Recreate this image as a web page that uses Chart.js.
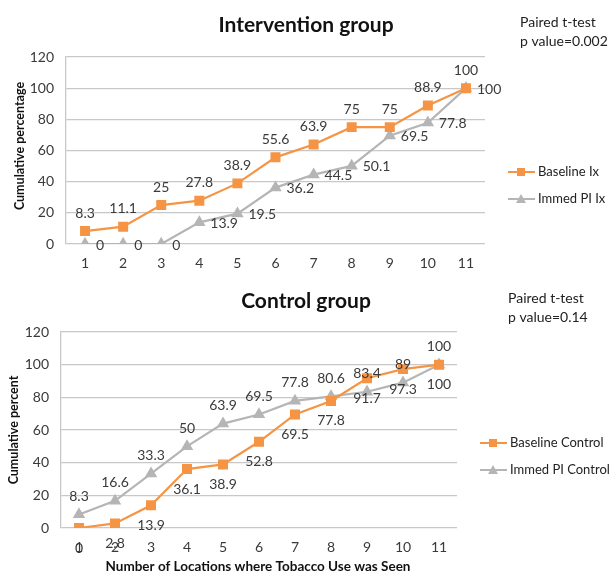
<!DOCTYPE html>
<html>
<head>
<meta charset="utf-8">
<script src="https://cdn.jsdelivr.net/npm/chart.js@4"></script>
<style>
  html, body { margin: 0; padding: 0; background: #fff; }
  #wrap { position: relative; width: 611px; height: 572px; overflow: hidden; }
  canvas { position: absolute; left: 0; }
</style>
</head>
<body>
<div id="wrap">
  <canvas id="topChart" width="611" height="280" style="top:0"></canvas>
  <canvas id="bottomChart" width="611" height="292" style="top:280px"></canvas>
</div>
<script>
// chart values
const categories = ["1", "2", "3", "4", "5", "6", "7", "8", "9", "10", "11"];
const baselineIx = [8.3, 11.1, 25, 27.8, 38.9, 55.6, 63.9, 75, 75, 88.9, 100];
const immedIx = [0, 0, 0, 13.9, 19.5, 36.2, 44.5, 50.1, 69.5, 77.8, 100];
const baselineControl = [0, 2.8, 13.9, 36.1, 38.9, 52.8, 69.5, 77.8, 91.7, 97.3, 100];
const immedControl = [8.3, 16.6, 33.3, 50, 63.9, 69.5, 77.8, 80.6, 83.4, 89, 100];
const yMin = 0, yMax = 120, yStep = 20;

const ORANGE = "#f59444";
const GREY = "#b5b5b5";
const TEXT = "#3a3a3a";
const FONT = "Lato, 'Open Sans', sans-serif";

// draws titles, notes, legend, axis titles and point labels
const extrasPlugin = {
    id: "extras",
    afterDraw(chart, args, opts) {
        const ctx = chart.ctx;
        ctx.save();
        ctx.fillStyle = "#111";
        ctx.textAlign = "center";
        ctx.textBaseline = "middle";
        ctx.font = "bold 21px " + FONT;
        ctx.fillText(opts.title, opts.titleX, opts.titleY);

        ctx.font = "14px " + FONT;
        ctx.textAlign = "left";
        ctx.fillStyle = "#222";
        opts.note.forEach((line, i) => ctx.fillText(line, opts.noteX, opts.noteY + i * 19));

        // axis titles
        ctx.font = "bold 12.5px " + FONT;
        ctx.fillStyle = "#111";
        ctx.save();
        ctx.translate(opts.yTitleX, opts.yTitleY);
        ctx.rotate(-Math.PI / 2);
        ctx.textAlign = "center";
        ctx.fillText(opts.yTitle, 0, 0);
        ctx.restore();
        if (opts.xTitle) {
            ctx.font = "bold 13.5px " + FONT;
            ctx.textAlign = "center";
            ctx.fillText(opts.xTitle, opts.xTitleX, opts.xTitleY);
        }

        // point labels
        ctx.font = "14px " + FONT;
        ctx.fillStyle = TEXT;
        chart.data.datasets.forEach((ds, i) => {
            const meta = chart.getDatasetMeta(i);
            meta.data.forEach((pt, j) => {
                const txt = String(ds.data[j]);
                if (ds.labelPos === "above") {
                    ctx.textAlign = "center";
                    ctx.fillText(txt, pt.x, pt.y - 18);
                } else if (ds.labelPos === "below") {
                    ctx.textAlign = "center";
                    ctx.fillText(txt, pt.x, pt.y + 20);
                } else {
                    ctx.textAlign = "left";
                    ctx.fillText(txt, pt.x + 11, pt.y + 1);
                }
            });
        });

        // legend
        ctx.font = "13px " + FONT;
        chart.data.datasets.forEach((ds, i) => {
            const y = opts.legendY + i * opts.legendGap;
            const x = opts.legendX;
            ctx.strokeStyle = ds.borderColor;
            ctx.lineWidth = 2;
            ctx.beginPath();
            ctx.moveTo(x, y);
            ctx.lineTo(x + 27, y);
            ctx.stroke();
            ctx.fillStyle = ds.borderColor;
            const cx = x + 13;
            if (ds.pointStyle === "rect") {
                ctx.fillRect(cx - 4, y - 4, 8, 8);
            } else {
                ctx.beginPath();
                ctx.moveTo(cx, y - 5);
                ctx.lineTo(cx + 5, y + 4);
                ctx.lineTo(cx - 5, y + 4);
                ctx.closePath();
                ctx.fill();
            }
            ctx.fillStyle = "#222";
            ctx.textAlign = "left";
            ctx.fillText(ds.label, x + 30, y);
        });
        ctx.restore();
    }
};

function makeChart(id, series, area, extras) {
    const canvas = document.getElementById(id);
    const W = canvas.width, H = canvas.height;
    return new Chart(canvas.getContext("2d"), {
        type: "line",
        data: {
            labels: categories,
            datasets: series.map(s => ({
                label: s.label,
                data: s.data,
                labelPos: s.labelPos,
                borderColor: s.color,
                backgroundColor: s.color,
                pointBackgroundColor: s.color,
                pointBorderColor: s.color,
                pointStyle: s.style,
                pointRadius: s.style === "rect" ? 5.5 : 5,
                borderWidth: 2.2,
                tension: 0
            }))
        },
        options: {
            responsive: false,
            animation: false,
            layout: { padding: { top: area.top, right: W - area.right, left: 0, bottom: 0 } },
            scales: {
                x: {
                    offset: true,
                    grid: { display: false, drawTicks: false },
                    border: { display: false },
                    ticks: { color: TEXT, font: { family: FONT, size: 14 }, padding: 11, maxRotation: 0 },
                    afterFit: s => { s.height = H - area.bottom; }
                },
                y: {
                    min: yMin,
                    max: yMax,
                    grid: { color: "#c8c8c8", lineWidth: 1.3, drawTicks: false },
                    border: { color: "#c8c8c8", width: 1.3 },
                    ticks: { stepSize: yStep, color: TEXT, font: { family: FONT, size: 14 }, padding: 12 },
                    afterFit: s => { s.width = area.left; }
                }
            },
            plugins: {
                legend: { display: false },
                tooltip: { enabled: false },
                extras: extras
            }
        },
        plugins: [extrasPlugin]
    });
}

makeChart("topChart", [
    { label: "Baseline Ix", data: baselineIx, color: ORANGE, style: "rect", labelPos: "above" },
    { label: "Immed PI Ix", data: immedIx, color: GREY, style: "triangle", labelPos: "right" }
], { left: 66, right: 485, top: 57, bottom: 244 }, {
    title: "Intervention group", titleX: 306, titleY: 25,
    note: ["Paired t-test", "p value=0.002"], noteX: 520, noteY: 22,
    yTitle: "Cumulative percentage", yTitleX: 20, yTitleY: 146,
    legendX: 508, legendY: 172, legendGap: 27
});

makeChart("bottomChart", [
    { label: "Baseline Control", data: baselineControl, color: ORANGE, style: "rect", labelPos: "below" },
    { label: "Immed PI Control", data: immedControl, color: GREY, style: "triangle", labelPos: "above" }
], { left: 61, right: 457, top: 52, bottom: 248 }, {
    title: "Control group", titleX: 306, titleY: 21,
    note: ["Paired t-test", "p value=0.14"], noteX: 508, noteY: 18,
    yTitle: "Cumulative percent", yTitleX: 14, yTitleY: 150,
    xTitle: "Number of Locations where Tobacco Use was Seen", xTitleX: 258, xTitleY: 287,
    legendX: 480, legendY: 163, legendGap: 27
});
</script>
</body>
</html>
